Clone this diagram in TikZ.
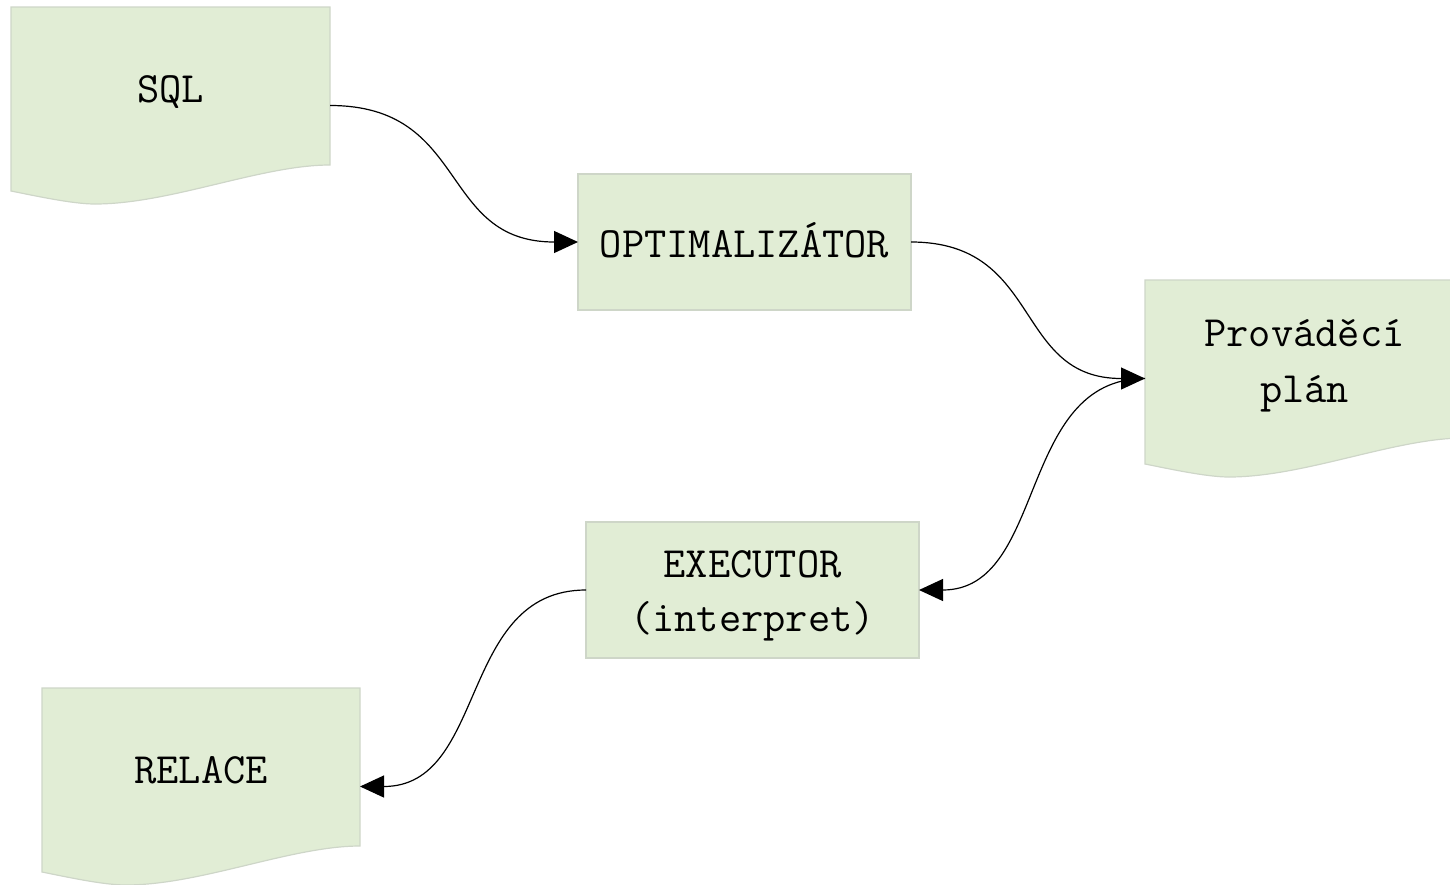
\documentclass[tikz,border=0pt]{standalone}
\usepackage{fontspec}
\usetikzlibrary{arrows.meta}

\definecolor{sheetfill}{RGB}{225,237,213}
\definecolor{sheetline}{RGB}{206,214,200}

\tikzset{
  paint/.style={fill=sheetfill, draw=sheetline, line width=0.6pt},
  label text/.style={font=\fontsize{21.6}{27.5}\selectfont\ttfamily, inner sep=0pt, anchor=base, align=center},
  stage/.style={paint, rectangle, inner sep=0pt, outer sep=0pt,
    minimum width=166.5pt, minimum height=68pt},
  flow/.style={line width=0.6pt, -{Triangle[length=12pt,width=11pt]}},
  % document sheet with a wavy lower edge; #1 = width in px
  sheet/.pic={
    \path[paint] (0,0) -- (#1,0) -- (#1,158)
      .. controls (#1*0.784,158) and (#1*0.5,197) .. (#1*0.263,197)
      .. controls (#1*0.194,197) and (#1*0.078,189) .. (0,184) -- cycle;
    \node[inner sep=0pt, outer sep=0pt, minimum width=#1*0.5pt,
      minimum height=98.5pt] (-body) at (#1/2,98.5) {};
  }
}

\begin{document}
\begin{tikzpicture}[x=0.5pt, y=-0.5pt]
  \useasboundingbox (0,0) rectangle (1450,884);
  \clip (0,0) rectangle (1450,884);

  % document sheets
  \pic (sql) at (11,7) {sheet=319};
  \pic (plan) at (1145,280) {sheet=319};
  \pic (rel) at (42,688) {sheet=318};

  % processing stages
  \node[stage] (opt) at (744.5,242) {};
  \node[stage] (exec) at (752.5,590) {};

  % texts
  \node[label text] (sqlt) at (170.5,102) {SQL};
  \node[label text] (plant) at (1304.5,346) {Prováděcí};
  \node[label text] (plant2) at (1304.5,402) {plán};
  \node[label text] (relt) at (201,783) {RELACE};
  \node[label text] (optt) at (744.5,257) {OPTIMALIZÁTOR};
  \node[label text] (exect) at (752.5,577) {EXECUTOR};
  \node[label text] (exect2) at (752.5,631) {(interpret)};

  % flow of the query
  \draw[flow] (sql-body.east) to[out=0, in=180, distance=70pt] (opt.west);
  \draw[flow] (opt.east) to[out=0, in=180, distance=66pt] (plan-body.west);
  \draw[flow] (plan-body.west) to[out=180, in=0, distance=64pt] (exec.east);
  \draw[flow] (exec.west) to[out=180, in=0, distance=64pt] (rel-body.east);
\end{tikzpicture}
\end{document}
